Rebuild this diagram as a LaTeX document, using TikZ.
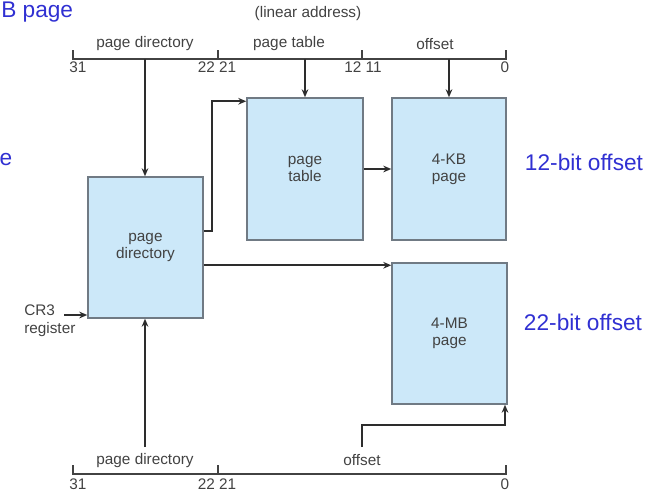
\documentclass[tikz,border=0pt]{standalone}
\usepackage{fontspec}
\setmainfont{Liberation Sans}
\usetikzlibrary{arrows.meta,calc}
\definecolor{boxfill}{RGB}{204,232,249}
\definecolor{boxline}{RGB}{112,122,132}
\definecolor{txtgray}{RGB}{66,66,66}
\definecolor{linegray}{RGB}{45,45,45}
\definecolor{bluetxt}{RGB}{48,48,210}
\tikzset{
  box/.style={draw=boxline, line width=1.1pt, fill=boxfill, align=center, text=txtgray,
    font=\fontsize{11.5}{12.5}\selectfont, inner sep=0pt},
  lbl/.style={text=txtgray, font=\fontsize{11.5}{13}\selectfont, inner sep=0pt},
  bluelbl/.style={text=bluetxt, font=\fontsize{17}{19}\selectfont, inner sep=0pt},
  addr/.style={draw=txtgray, line width=0.9pt},
  arr/.style={draw=linegray, line width=1.4pt, -{Stealth[length=6pt,width=5pt]}},
}
\begin{document}
\begin{tikzpicture}[x=0.75pt,y=-0.75pt]
\useasboundingbox (0,0) rectangle (666,493);
\clip (0,0) rectangle (666,493);
% boxes
\node[box, minimum width=86.25pt, minimum height=105.75pt] (pd) at (145.5,247.5) {page\\directory};
\node[box, minimum width=87pt, minimum height=106.5pt] (pt) at (305,169) {page\\table};
\node[box, minimum width=85.5pt, minimum height=106.5pt] (kb) at (449,169) {4-KB\\page};
\node[box, minimum width=86.25pt, minimum height=105.75pt] (mb) at (449.5,333.5) {4-MB\\page};
% top address line
\coordinate (tl) at (73,59);
\coordinate (tr) at (506,59);
\draw[addr] (73,50) -- (tl) -- (tr) -- (506,50);
\draw[addr] (218,50) -- (218,59);
\draw[addr] (362,50) -- (362,59);
\node[lbl] (lin) at (308,14) {(linear address)};
\node[lbl] (tpd) at (145,44) {page directory};
\node[lbl] (tpt) at (289,44) {page table};
\node[lbl] (toff) at (435,44) {offset};
\node[lbl] (n31) at (78,67) {31};
\node[lbl] (n2221) at (217,67) {22 21};
\node[lbl] (n1211) at (363,67) {12 11};
\node[lbl] (n0) at (505,67) {0};
% bottom address line
\coordinate (bl) at (73,474);
\coordinate (br) at (506,474);
\draw[addr] (73,465) -- (bl) -- (br) -- (506,465);
\draw[addr] (218,465) -- (218,474);
\node[lbl] (bpd) at (145,461) {page directory};
\node[lbl] (boff) at (362,460) {offset};
\node[lbl] (m31) at (78,484) {31};
\node[lbl] (m2221) at (217,484) {22 21};
\node[lbl] (m0) at (505,484) {0};
% CR3
\node[lbl, align=left, anchor=north west] (cr3) at (24,305) {CR3\\register};
\coordinate (c3) at (64,315);
\draw[arr] (c3) -- (c3 -| pd.west);
% connectors from top address
\coordinate (a1) at (145,59);
\coordinate (a2) at (305,59);
\coordinate (a3) at (449,59);
\draw[arr] (a1) -- (a1 |- pd.north);
\draw[arr] (a2) -- (a2 |- pt.north);
\draw[arr] (a3) -- (a3 |- kb.north);
% pd -> pt
\coordinate (j1) at (212,231);
\draw[arr] (j1 -| pd.east) -- (j1) |- ([yshift=-3pt]pt.north west);
% pt -> kb
\draw[arr] (pt.east) -- (kb.west);
% pd -> mb
\coordinate (j2) at ([yshift=-2.25pt]mb.north west);
\draw[arr] (j2 -| pd.east) -- (j2);
% bottom connectors
\coordinate (b1) at (145,447);
\draw[arr] (b1) -- (b1 |- pd.south);
\coordinate (b2) at (362,447);
\coordinate (b3) at (505,425);
\draw[arr] (b2) |- (b3) -- (b3 |- mb.south);
% blue labels
\node[bluelbl, anchor=west] (bpage) at (1,12) {B page};
\node[bluelbl] (ee) at (6,160) {e};
\node[bluelbl] (o12) at (584,162) {12-bit offset};
\node[bluelbl] (o22) at (583,322) {22-bit offset};
\end{tikzpicture}
\end{document}
